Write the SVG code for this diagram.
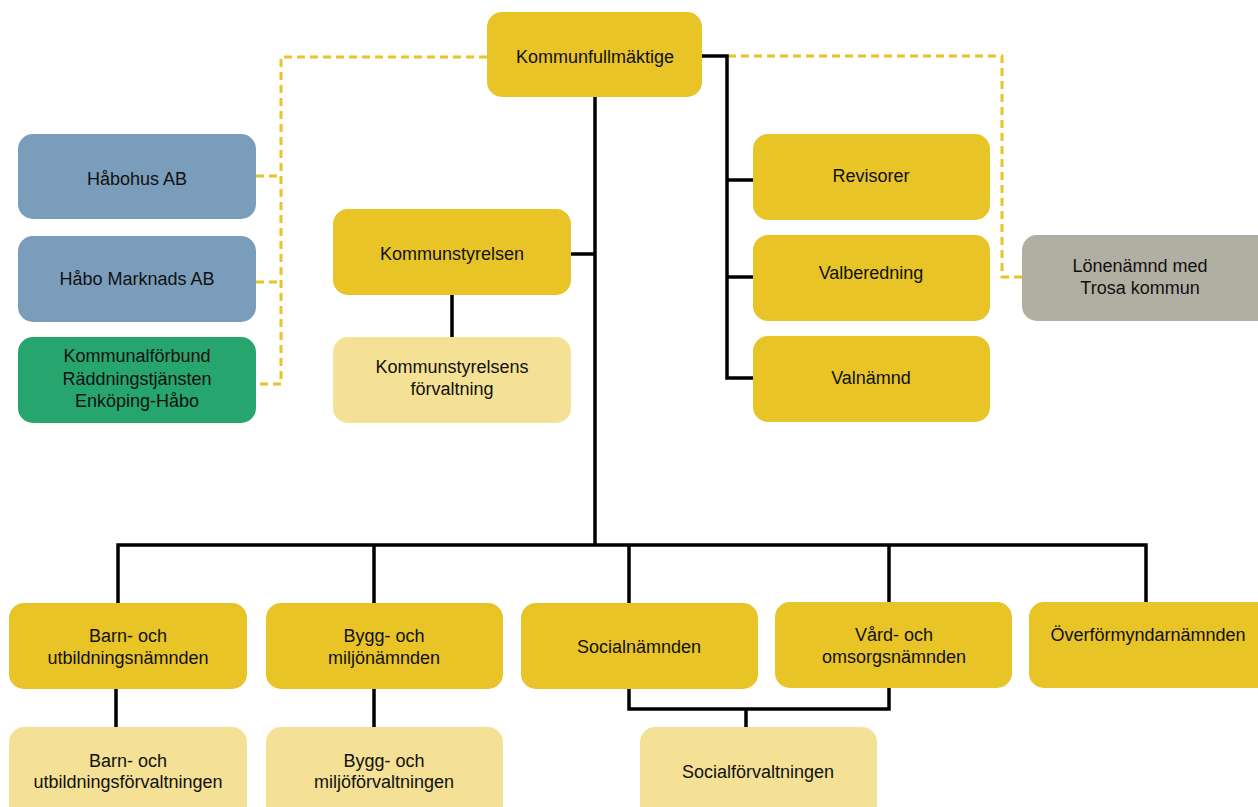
<svg xmlns="http://www.w3.org/2000/svg" width="1258" height="807" viewBox="0 0 1258 807">
<style>
.n rect{stroke:none}
.y{fill:#E8C427}
.l{fill:#F4E195}
.b{fill:#7A9DBB}
.g{fill:#27A56F}
.s{fill:#B1AEA2}
text{font-family:"Liberation Sans",Arial,sans-serif;font-size:18px;fill:#111;text-anchor:middle}
.k{fill:none;stroke:#000;stroke-width:3.5}
.d{fill:none;stroke:#E8C427;stroke-width:3;stroke-dasharray:8 5}
</style>
<rect width="1258" height="807" fill="#fff"/>
<g id="connectors">
<path class="d" d="M487 57H281V384H256M256 176H281M256 282H281"/>
<path class="d" d="M728 56H1002V277H1022"/>
<path class="k" d="M702 56H727V378H753M727 180H753M727 277H753"/>
<path class="k" d="M595 97V545M571 254H595M452 295V337"/>
<path class="k" d="M118 603V545H1146V602M374 545V603M629 545V603M889 545V602"/>
<path class="k" d="M116 689V727M374 689V727M629 689V709H889V688M746 709V727"/>
</g>
<g id="kommunfullmaktige" class="n"><rect class="y" x="487" y="12" width="215" height="85" rx="15"/><text x="595" y="63">Kommunfullmäktige</text></g>
<g id="habohus" class="n"><rect class="b" x="18" y="134" width="238" height="85" rx="15"/><text x="137" y="185">Håbohus AB</text></g>
<g id="habo-marknads" class="n"><rect class="b" x="18" y="236" width="238" height="86" rx="15"/><text x="137" y="285">Håbo Marknads AB</text></g>
<g id="kommunalforbund" class="n"><rect class="g" x="18" y="337" width="238" height="86" rx="15"/><text x="137" y="362">Kommunalförbund</text><text x="137" y="385">Räddningstjänsten</text><text x="137" y="407">Enköping-Håbo</text></g>
<g id="kommunstyrelsen" class="n"><rect class="y" x="333" y="209" width="238" height="86" rx="15"/><text x="452" y="260">Kommunstyrelsen</text></g>
<g id="ks-forvaltning" class="n"><rect class="l" x="333" y="337" width="238" height="86" rx="15"/><text x="452" y="373">Kommunstyrelsens</text><text x="452" y="395">förvaltning</text></g>
<g id="revisorer" class="n"><rect class="y" x="753" y="134" width="237" height="86" rx="15"/><text x="871" y="182">Revisorer</text></g>
<g id="valberedning" class="n"><rect class="y" x="753" y="235" width="237" height="86" rx="15"/><text x="871" y="279">Valberedning</text></g>
<g id="valnamnd" class="n"><rect class="y" x="753" y="336" width="237" height="86" rx="15"/><text x="871" y="384">Valnämnd</text></g>
<g id="lonenamnd" class="n"><rect class="s" x="1022" y="235" width="250" height="86" rx="15"/><text x="1140" y="272">Lönenämnd med</text><text x="1140" y="294">Trosa kommun</text></g>
<g id="barn-namnd" class="n"><rect class="y" x="9" y="603" width="238" height="86" rx="15"/><text x="128" y="642">Barn- och</text><text x="128" y="664">utbildningsnämnden</text></g>
<g id="bygg-namnd" class="n"><rect class="y" x="266" y="603" width="237" height="86" rx="15"/><text x="384" y="642">Bygg- och</text><text x="384" y="664">miljönämnden</text></g>
<g id="socialnamnd" class="n"><rect class="y" x="521" y="603" width="237" height="86" rx="15"/><text x="639" y="653">Socialnämnden</text></g>
<g id="vard-namnd" class="n"><rect class="y" x="775" y="602" width="237" height="86" rx="15"/><text x="894" y="641">Vård- och</text><text x="894" y="663">omsorgsnämnden</text></g>
<g id="overformyndar" class="n"><rect class="y" x="1029" y="602" width="245" height="86" rx="15"/><text x="1148" y="641">Överförmyndarnämnden</text></g>
<g id="barn-forv" class="n"><rect class="l" x="9" y="727" width="238" height="100" rx="15"/><text x="128" y="767">Barn- och</text><text x="128" y="788">utbildningsförvaltningen</text></g>
<g id="bygg-forv" class="n"><rect class="l" x="266" y="727" width="237" height="100" rx="15"/><text x="384" y="767">Bygg- och</text><text x="384" y="788">miljöförvaltningen</text></g>
<g id="social-forv" class="n"><rect class="l" x="640" y="727" width="237" height="100" rx="15"/><text x="758" y="778">Socialförvaltningen</text></g>
</svg>
